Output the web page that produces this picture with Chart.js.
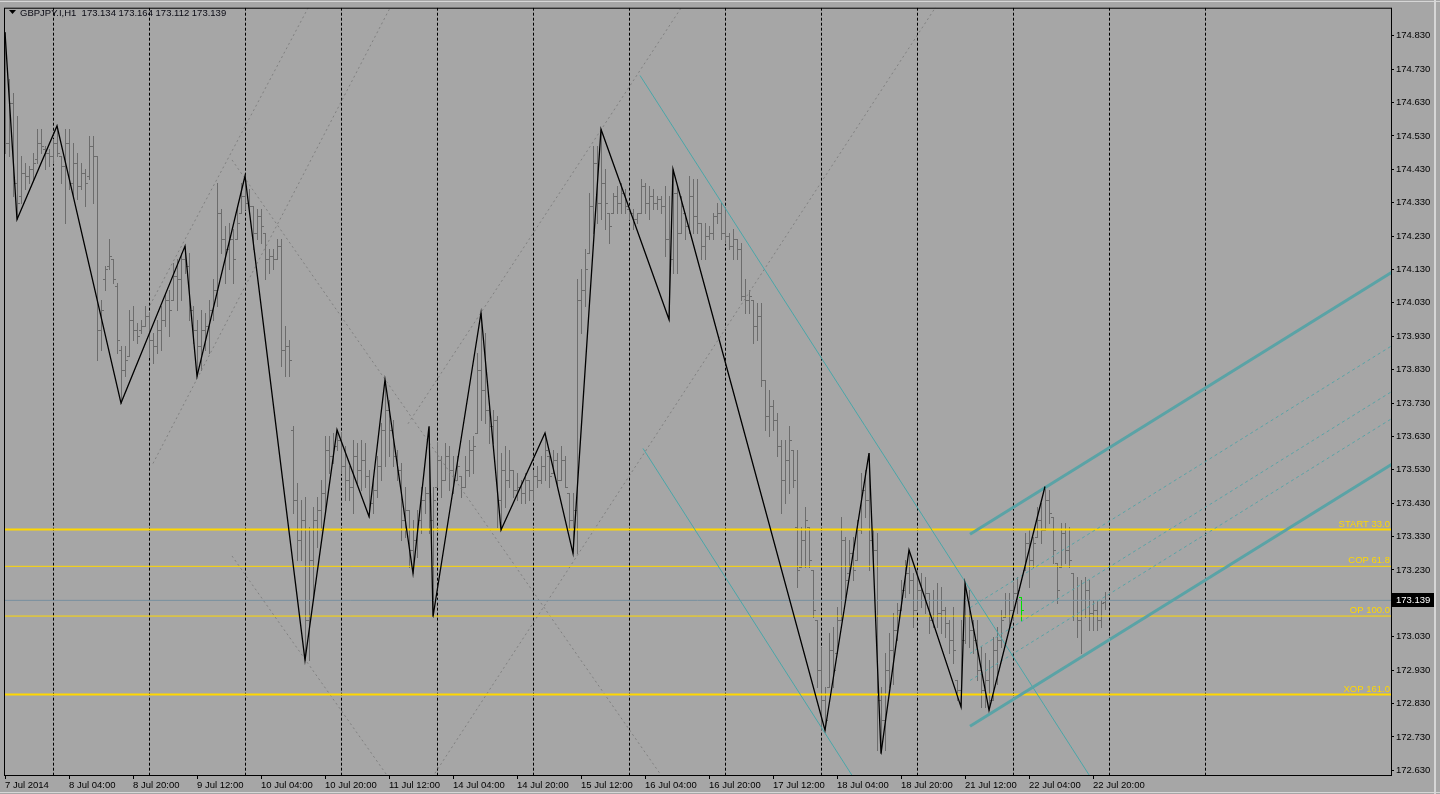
<!DOCTYPE html>
<html>
<head>
<meta charset="utf-8">
<script src="https://cdn.jsdelivr.net/npm/chart.js@4.4.1/dist/chart.umd.min.js"></script>
<style>
  html, body { margin: 0; padding: 0; background: #a6a6a6; overflow: hidden; }
  #wrap { position: relative; width: 1440px; height: 794px; }
</style>
</head>
<body>
<div id="wrap"><canvas id="chart"></canvas></div>
<script>
// GBPJPY H1 bars (one value per hour, bar 0 = 7 Jul 12:00)
const barHigh = [
  174.84,174.70,174.66,174.59,174.47,174.45,174.44,174.48,174.55,174.55,
  174.50,174.49,174.52,174.56,174.47,174.55,174.55,174.51,174.48,174.45,
  174.43,174.53,174.53,174.47,174.04,174.14,174.22,174.16,174.09,173.90,
  173.90,174.01,174.02,173.97,173.98,174.02,174.00,173.94,173.98,174.02,
  174.06,174.07,174.15,174.16,174.18,174.20,174.18,174.02,173.98,174.01,
  174.00,174.04,174.10,174.39,174.31,174.26,174.27,174.25,174.31,174.39,
  174.41,174.37,174.32,174.31,174.31,174.24,174.19,174.19,174.22,174.22,
  173.96,173.92,173.66,173.49,173.44,173.45,173.36,173.42,173.45,173.50,
  173.63,173.63,173.64,173.65,173.64,173.60,173.54,173.62,173.61,173.62,
  173.61,173.53,173.50,173.57,173.67,173.80,173.74,173.68,173.59,173.55,
  173.48,173.41,173.38,173.41,173.48,173.48,173.66,173.48,173.61,173.57,
  173.61,173.60,173.57,173.57,173.51,173.57,173.62,173.63,173.88,174.00,
  173.94,173.72,173.71,173.69,173.58,173.60,173.59,173.53,173.52,173.50,
  173.52,173.50,173.53,173.54,173.57,173.64,173.57,173.59,173.58,173.60,
  173.57,173.46,173.46,174.10,174.13,174.19,174.36,174.50,174.50,174.55,
  174.43,174.30,174.36,174.38,174.39,174.37,174.31,174.31,174.30,174.40,
  174.39,174.38,174.37,174.35,174.35,174.38,174.35,174.43,174.38,174.35,
  174.30,174.41,174.40,174.40,174.27,174.27,174.26,174.30,174.33,174.33,
  174.31,174.24,174.25,174.22,174.21,174.10,174.07,174.04,174.03,174.03,
  173.80,173.77,173.74,173.70,173.62,173.62,173.66,173.59,173.59,173.36,
  173.42,173.36,173.23,173.08,173.00,172.88,173.04,173.06,173.12,173.39,
  173.33,173.32,173.33,173.38,173.52,173.53,173.58,173.35,173.34,172.88,
  172.98,173.04,173.10,173.13,173.20,173.26,173.29,173.22,173.23,173.22,
  173.21,173.16,173.17,173.19,173.18,173.12,173.08,173.12,172.90,173.08,
  173.19,173.17,173.08,173.08,173.00,172.98,172.96,173.03,173.06,173.11,
  173.16,173.16,173.19,173.21,173.15,173.34,173.35,173.33,173.42,173.43,
  173.48,173.47,173.39,173.25,173.37,173.37,173.36,173.22,173.21,173.20,
  173.21,173.20,173.14,173.14,173.14,173.164
];
const barLow = [
  174.48,174.47,174.35,174.28,174.33,174.37,174.39,174.40,174.45,174.48,
  174.43,174.44,174.45,174.47,174.39,174.27,174.37,174.35,174.34,174.37,
  174.32,174.40,174.33,173.86,173.89,174.07,174.13,174.09,173.88,173.73,
  173.81,173.87,173.92,173.91,173.94,173.96,173.87,173.85,173.88,173.89,
  173.96,173.93,174.04,174.01,174.04,174.12,173.98,173.91,173.81,173.83,
  173.89,173.88,173.98,174.02,174.18,174.09,174.13,174.09,174.22,174.30,
  174.31,174.30,174.19,174.22,174.21,174.10,174.12,174.13,174.16,173.84,
  173.81,173.81,173.40,173.26,173.26,172.96,172.96,173.14,173.30,173.35,
  173.40,173.52,173.55,173.59,173.52,173.44,173.44,173.40,173.49,173.47,
  173.48,173.39,173.40,173.45,173.50,173.54,173.57,173.54,173.50,173.32,
  173.33,173.24,173.22,173.27,173.34,173.40,173.34,173.09,173.48,173.45,
  173.50,173.47,173.46,173.50,173.45,173.48,173.51,173.52,173.64,173.68,
  173.67,173.61,173.61,173.36,173.35,173.42,173.48,173.45,173.44,173.43,
  173.43,173.44,173.44,173.48,173.49,173.50,173.48,173.52,173.48,173.50,
  173.48,173.35,173.28,173.28,173.94,174.02,174.18,174.24,174.27,174.28,
  174.25,174.21,174.30,174.30,174.30,174.30,174.28,174.25,174.27,174.30,
  174.30,174.28,174.31,174.31,174.30,174.17,173.98,174.12,174.12,174.24,
  174.22,174.24,174.24,174.24,174.16,174.16,174.22,174.22,174.27,174.22,
  174.21,174.19,174.16,174.16,174.04,174.00,174.00,173.91,173.92,173.78,
  173.65,173.63,173.65,173.57,173.40,173.43,173.46,173.48,173.18,173.24,
  173.24,173.24,173.09,172.88,172.75,172.75,172.88,172.88,172.98,173.08,
  173.15,173.22,173.20,173.26,173.34,173.39,173.23,173.23,172.69,172.68,
  172.69,172.88,172.89,173.02,173.11,173.15,173.16,173.06,173.11,173.12,
  173.10,173.04,173.06,173.06,173.04,173.03,172.98,172.95,172.84,172.82,
  173.01,173.00,172.98,172.90,172.82,172.82,172.81,172.84,172.89,173.00,
  173.09,173.06,173.08,173.10,173.08,173.23,173.18,173.24,173.33,173.31,
  173.35,173.37,173.25,173.13,173.24,173.25,173.24,173.08,173.03,172.98,
  173.09,173.05,173.05,173.05,173.06,173.112
];
const barOpen = [
  174.83,174.51,174.63,174.39,174.35,174.42,174.41,174.43,174.46,174.51,
  174.49,174.48,174.47,174.51,174.47,174.44,174.51,174.39,174.45,174.38,
  174.42,174.41,174.50,174.47,173.95,174.10,174.14,174.16,174.08,173.89,
  173.83,173.87,173.98,173.95,173.95,173.96,173.99,173.92,173.90,173.95,
  173.98,174.04,174.04,174.11,174.10,174.16,174.14,174.01,173.95,173.90,
  173.95,173.96,174.01,174.07,174.30,174.22,174.19,174.22,174.22,174.30,
  174.35,174.33,174.32,174.24,174.29,174.24,174.16,174.17,174.16,174.20,
  173.89,173.90,173.65,173.44,173.32,173.38,173.08,173.26,173.38,173.41,
  173.46,173.59,173.57,173.60,173.62,173.54,173.50,173.48,173.57,173.53,
  173.56,173.51,173.43,173.47,173.54,173.65,173.71,173.65,173.57,173.53,
  173.38,173.41,173.29,173.32,173.38,173.44,173.46,173.38,173.48,173.56,
  173.50,173.57,173.53,173.50,173.51,173.48,173.53,173.59,173.64,173.83,
  173.77,173.71,173.66,173.68,173.44,173.53,173.50,173.53,173.47,173.48,
  173.46,173.50,173.47,173.51,173.50,173.54,173.57,173.52,173.56,173.50,
  173.56,173.46,173.38,173.41,174.04,174.07,174.18,174.32,174.45,174.33,
  174.39,174.30,174.30,174.35,174.33,174.36,174.31,174.30,174.28,174.30,
  174.38,174.33,174.35,174.33,174.34,174.32,174.22,174.16,174.36,174.24,
  174.30,174.26,174.35,174.29,174.27,174.20,174.23,174.24,174.29,174.30,
  174.24,174.23,174.20,174.22,174.19,174.05,174.04,174.04,173.96,173.99,
  173.80,173.69,173.72,173.68,173.60,173.50,173.56,173.59,173.36,173.24,
  173.32,173.36,173.23,173.08,172.93,172.84,172.88,172.99,172.98,173.08,
  173.32,173.22,173.28,173.26,173.35,173.47,173.44,173.32,173.29,172.84,
  172.78,172.93,172.99,173.05,173.11,173.17,173.22,173.20,173.11,173.17,
  173.14,173.16,173.08,173.14,173.10,173.11,173.07,173.02,172.90,172.87,
  173.02,173.14,173.05,173.02,172.93,172.87,172.90,172.84,172.99,173.02,
  173.09,173.14,173.11,173.16,173.15,173.23,173.31,173.26,173.33,173.38,
  173.35,173.44,173.39,173.25,173.24,173.34,173.29,173.22,173.14,173.08,
  173.14,173.17,173.10,173.11,173.08,173.134
];
const barClose = [
  174.51,174.63,174.39,174.33,174.42,174.41,174.43,174.45,174.51,174.50,
  174.48,174.47,174.51,174.48,174.44,174.51,174.39,174.45,174.38,174.42,
  174.39,174.50,174.47,173.95,174.01,174.13,174.17,174.10,173.92,173.83,
  173.86,173.98,173.95,173.93,173.96,173.99,173.92,173.90,173.95,173.98,
  174.04,174.01,174.11,174.10,174.16,174.14,174.01,173.95,173.90,173.95,
  173.96,174.01,174.07,174.30,174.22,174.19,174.22,174.16,174.27,174.35,
  174.33,174.32,174.24,174.29,174.26,174.16,174.17,174.16,174.20,173.89,
  173.90,173.86,173.44,173.32,173.38,173.08,173.26,173.38,173.41,173.46,
  173.59,173.57,173.60,173.62,173.54,173.50,173.48,173.57,173.53,173.56,
  173.51,173.43,173.47,173.54,173.65,173.71,173.65,173.57,173.53,173.38,
  173.41,173.29,173.32,173.38,173.44,173.46,173.38,173.44,173.56,173.50,
  173.57,173.53,173.50,173.54,173.48,173.53,173.59,173.60,173.83,173.77,
  173.71,173.66,173.68,173.44,173.53,173.50,173.53,173.47,173.48,173.46,
  173.50,173.47,173.51,173.50,173.54,173.59,173.51,173.56,173.50,173.56,
  173.48,173.38,173.41,174.04,174.07,174.13,174.32,174.45,174.33,174.39,
  174.33,174.26,174.35,174.33,174.36,174.32,174.30,174.28,174.30,174.38,
  174.33,174.35,174.33,174.34,174.32,174.22,174.16,174.36,174.24,174.32,
  174.26,174.35,174.29,174.27,174.20,174.23,174.24,174.29,174.30,174.24,
  174.23,174.20,174.22,174.19,174.05,174.04,174.05,173.96,173.99,173.80,
  173.69,173.72,173.68,173.60,173.50,173.56,173.62,173.50,173.23,173.32,
  173.38,173.26,173.11,172.93,172.84,172.78,172.99,172.93,173.08,173.32,
  173.20,173.28,173.23,173.35,173.47,173.44,173.32,173.29,172.84,172.78,
  172.93,172.99,173.05,173.11,173.17,173.22,173.20,173.11,173.17,173.14,
  173.16,173.08,173.14,173.10,173.11,173.07,173.02,172.99,172.87,173.02,
  173.14,173.05,173.02,172.93,172.87,172.90,172.84,172.99,173.02,173.08,
  173.14,173.11,173.16,173.17,173.11,173.31,173.26,173.31,173.38,173.35,
  173.44,173.40,173.29,173.17,173.34,173.29,173.26,173.14,173.08,173.14,
  173.17,173.10,173.11,173.08,173.13,173.139
];

// ZigZag turning points (bar index, price)
const zigzagBars   = [0, 3, 13, 29, 45, 48, 60, 75, 83, 91, 95, 102, 106, 107, 119, 124, 135, 142, 149, 166, 167, 205, 216, 219, 226, 239, 240, 246, 260];
const zigzagPrices = [174.84, 174.28, 174.56, 173.73, 174.20, 173.81, 174.41, 172.96, 173.65, 173.39, 173.80, 173.22, 173.66, 173.09, 174.00, 173.35, 173.64, 173.28, 174.55, 173.98, 174.43, 172.75, 173.58, 172.68, 173.29, 172.82, 173.19, 172.81, 173.48];

// axis ticks
const xTickBars = [0, 16, 32, 48, 64, 80, 96, 112, 128, 144, 160, 176, 192, 208, 224, 240, 256, 272];
const xTickLabels = ['7 Jul 2014', '8 Jul 04:00', '8 Jul 20:00', '9 Jul 12:00', '10 Jul 04:00', '10 Jul 20:00',
  '11 Jul 12:00', '14 Jul 04:00', '14 Jul 20:00', '15 Jul 12:00', '16 Jul 04:00', '16 Jul 20:00',
  '17 Jul 12:00', '18 Jul 04:00', '18 Jul 20:00', '21 Jul 12:00', '22 Jul 04:00', '22 Jul 20:00'];
const yTickValues = [172.63, 172.73, 172.83, 172.93, 173.03, 173.13, 173.23, 173.33, 173.43, 173.53, 173.63,
  173.73, 173.83, 173.93, 174.03, 174.13, 174.23, 174.33, 174.43, 174.53, 174.63, 174.73, 174.83];

// day separators (bar index of midnight)
const separatorBars = [12, 36, 60, 84, 108, 132, 156, 180, 204, 228, 252, 276, 300];

// fib levels
const levelNames  = ['START 33.0', 'COP 61.8', 'OP 100.0', 'XOP 161.0'];
const levelPrices = [173.351, 173.241, 173.092, 172.857];
const lastPrice = 173.139;
const symbolTitle = 'GBPJPY.I,H1  173.134 173.164 173.112 173.139';

// drawn objects: [bar1, price1, bar2, price2]
const dottedRays = [
  [36.25, 174.023, 79.0, 174.986],
  [37.0, 173.549, 99.4, 174.986],
  [56.75, 174.458, 166.6, 172.571],
  [56.75, 173.272, 98.1, 172.571],
  [100.75, 173.668, 173.0, 174.986],
  [104.75, 172.571, 236.5, 174.986]
];
const tealLines = [
  [158.75, 174.711, 273.45, 172.571],
  [159.5, 173.594, 214.1, 172.571]
];
const channelEdges = [
  [241.25, 173.337, 353.75, 174.174],
  [241.25, 172.762, 353.75, 173.599]
];
const channelInner = [
  [241.25, 173.117, 353.75, 173.954],
  [241.25, 172.980, 353.75, 173.817],
  [241.25, 172.899, 353.75, 173.736]
];

const FONT = '"Liberation Sans", Arial, sans-serif';
const TEAL = '#5aa3a6';

function seg(s, color, width, dash) {
  return {
    data: [{ x: s[0], y: s[1] }, { x: s[2], y: s[3] }],
    borderColor: color, borderWidth: width, borderDash: dash || [],
    pointRadius: 0, fill: false, tension: 0, clip: 0
  };
}

const datasets = [];
datasets.push({
  data: zigzagBars.map((b, k) => ({ x: b, y: zigzagPrices[k] })),
  borderColor: '#000', borderWidth: 1.3, pointRadius: 0, fill: false, tension: 0, clip: 0
});
channelEdges.forEach(s => datasets.push(seg(s, TEAL, 3)));
channelInner.forEach(s => datasets.push(seg(s, TEAL, 1, [3, 3])));
tealLines.forEach(s => datasets.push(seg(s, '#4aa6a8', 1)));
levelPrices.forEach((p, k) => datasets.push(seg([-5, p, 400, p], '#ffd700', (k === 0 || k === 3) ? 2 : 1)));
datasets.push(seg([-5, lastPrice, 400, lastPrice], '#7890a0', 1));
dottedRays.forEach(s => datasets.push(seg(s, '#808080', 1, [2, 3])));

const mt4Plugin = {
  id: 'mt4',
  beforeDatasetsDraw(chart) {
    const { ctx, chartArea: a } = chart;
    const xs = chart.scales.x, ys = chart.scales.y;
    ctx.save();
    ctx.beginPath();
    ctx.rect(a.left, a.top, a.right - a.left, a.bottom - a.top);
    ctx.clip();

    // period separators
    ctx.strokeStyle = '#000';
    ctx.lineWidth = 1;
    ctx.setLineDash([3, 2]);
    ctx.beginPath();
    separatorBars.forEach(b => {
      const x = Math.round(xs.getPixelForValue(b)) + 0.5;
      ctx.moveTo(x, a.top);
      ctx.lineTo(x, a.bottom);
    });
    ctx.stroke();
    ctx.setLineDash([]);

    // OHLC bars
    for (let i = 0; i < barHigh.length; i++) {
      ctx.fillStyle = i === 254 ? '#00e000' : '#6c6c6c';
      const x = Math.round(xs.getPixelForValue(i));
      const yh = Math.round(ys.getPixelForValue(barHigh[i]));
      const yl = Math.round(ys.getPixelForValue(barLow[i]));
      const yo = Math.round(ys.getPixelForValue(barOpen[i]));
      const yc = Math.round(ys.getPixelForValue(barClose[i]));
      ctx.fillRect(x, yh, 1, Math.max(1, yl - yh + 1));
      ctx.fillRect(x - 2, yo, 2, 1);
      ctx.fillRect(x + 1, yc, 2, 1);
    }
    ctx.restore();
  },
  afterDraw(chart) {
    const { ctx, chartArea: a } = chart;
    const ys = chart.scales.y;
    ctx.save();

    // level captions
    ctx.font = '9.5px ' + FONT;
    ctx.fillStyle = '#ffd700';
    ctx.textAlign = 'right';
    ctx.textBaseline = 'bottom';
    levelPrices.forEach((p, k) => {
      ctx.fillText(levelNames[k], a.right - 1, Math.round(ys.getPixelForValue(p)) - 1);
    });

    // frame
    ctx.strokeStyle = '#000';
    ctx.lineWidth = 1;
    ctx.strokeRect(a.left + 0.5, a.top + 0.5, a.right - a.left, a.bottom - a.top);

    // window edges
    ctx.fillStyle = '#d6d6d6';
    ctx.fillRect(0, 1, 1440, 1);
    ctx.fillRect(1434, 0, 2, 794);
    ctx.fillRect(0, 792, 1440, 1);

    // last price tag
    const yp = Math.round(ys.getPixelForValue(lastPrice));
    ctx.fillStyle = '#000';
    ctx.fillRect(a.right + 1, yp - 7, 42, 14);
    ctx.fillStyle = '#fff';
    ctx.textAlign = 'left';
    ctx.textBaseline = 'middle';
    ctx.fillText(lastPrice.toFixed(3), a.right + 5, yp + 0.5);

    // title
    ctx.fillStyle = '#000';
    ctx.beginPath();
    ctx.moveTo(9, 10); ctx.lineTo(16, 10); ctx.lineTo(12.5, 14);
    ctx.closePath(); ctx.fill();
    ctx.fillStyle = '#0a0a14';
    ctx.textBaseline = 'middle';
    ctx.fillText(symbolTitle, 20, 13);
    ctx.restore();
  }
};

new Chart(document.getElementById('chart'), {
  type: 'line',
  data: { datasets },
  plugins: [mt4Plugin],
  options: {
    animation: false,
    responsive: true,
    maintainAspectRatio: false,
    devicePixelRatio: 1,
    events: [],
    layout: { padding: { left: 4, top: 4, right: 0, bottom: 0 } },
    plugins: { legend: { display: false }, tooltip: { enabled: false } },
    scales: {
      x: {
        type: 'linear', position: 'bottom', min: -0.25, max: 346.5,
        afterBuildTicks: s => { s.ticks = xTickBars.map(v => ({ value: v })); },
        afterFit: s => { s.height = 19; },
        grid: { display: true, drawOnChartArea: false, drawTicks: true, tickLength: 4, color: '#000' },
        border: { display: false },
        ticks: {
          autoSkip: false, maxRotation: 0, align: 'start', padding: 1,
          color: '#000', font: { family: FONT, size: 9.5 },
          callback: (v, i) => xTickLabels[i]
        }
      },
      y: {
        type: 'linear', position: 'right', min: 172.616, max: 174.914,
        afterBuildTicks: s => { s.ticks = yTickValues.map(v => ({ value: v })); },
        afterFit: s => { s.width = 49; },
        grid: { display: true, drawOnChartArea: false, drawTicks: true, tickLength: 3, color: '#000' },
        border: { display: false },
        ticks: {
          padding: 2, color: '#000', font: { family: FONT, size: 9.5 },
          callback: v => Number(v).toFixed(3)
        }
      }
    }
  }
});
</script>
</body>
</html>
